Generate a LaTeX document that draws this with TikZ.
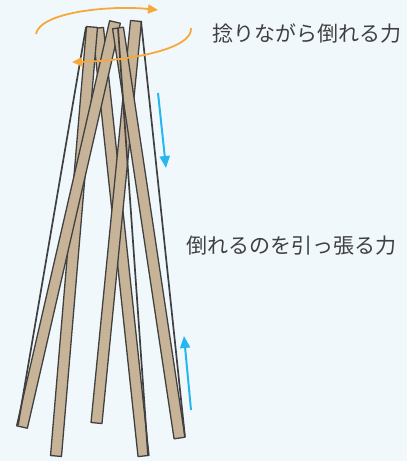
\documentclass[tikz,border=0pt]{standalone}
\usepackage{fontspec}
\newfontfamily\jpfont{Noto Sans CJK JP}
\usetikzlibrary{calc,arrows.meta}
\definecolor{bgblue}{RGB}{241,248,252}
\definecolor{wood}{RGB}{199,180,152}
\definecolor{woodedge}{RGB}{64,64,64}
\definecolor{twist}{RGB}{246,168,58}
\definecolor{pull}{RGB}{38,182,240}
\definecolor{labelgray}{RGB}{64,64,64}
% a plank drawn as a quadrilateral between two centre points
\newcommand\woodstick[3][5.5pt]{%
  \filldraw[stickbox] ($(#2)!#1!90:(#3)$) -- ($(#2)!#1!-90:(#3)$)
    -- ($(#3)!#1!90:(#2)$) -- ($(#3)!#1!-90:(#2)$) -- cycle;}
\begin{document}
\begin{tikzpicture}[x=1pt,y=-1pt,
  stickbox/.style={fill=wood,draw=woodedge,line width=1.3pt,line join=round},
  edgeline/.style={draw=woodedge,line width=1.7pt},
  twistarrow/.style={draw=twist,line width=1.8pt,-{Triangle[length=10pt,width=9pt]}},
  pullarrow/.style={draw=pull,line width=2pt,-{Triangle[length=12pt,width=10pt]}},
  caption/.style={text=labelgray,font=\jpfont\fontsize{21}{24}\selectfont,anchor=west,inner sep=0pt}]
\useasboundingbox (0,0) rectangle (407,461);
\fill[bgblue] (0,0) rectangle (407,461);

% plank end points (centres of the short edges)
\coordinate (aTop) at (115,22);   \coordinate (aBot) at (22,427);
\coordinate (bTop) at (92,27);    \coordinate (bBot) at (56,456);
\coordinate (cTop) at (136,21);   \coordinate (cBot) at (96.5,423);
\coordinate (dTop) at (98,28);    \coordinate (dBot) at (143.5,456);
\coordinate (eTop) at (118,28);   \coordinate (eBot) at (179.5,438);

% planks, back to front
\woodstick{dTop}{dBot}
\woodstick{bTop}{bBot}
\woodstick{aTop}{aBot}
\woodstick{cTop}{cBot}
\woodstick{eTop}{eBot}

% thin planks seen edge-on
\coordinate (l1Top) at (86,27);   \coordinate (l1Bot) at (18,425);
\coordinate (l2Top) at (118,28);  \coordinate (l2Bot) at (148,455);
\coordinate (l3Top) at (141,21);  \coordinate (l3Bot) at (185,437);
\draw[edgeline] (l1Top) -- (l1Bot);
\draw[edgeline] (l2Top) -- (l2Bot);
\draw[edgeline] (l3Top) -- (l3Bot);

% twisting motion round the top
\coordinate (tw1s) at (36,34);   \coordinate (tw1e) at (158,10);
\coordinate (tw2s) at (191,28);  \coordinate (tw2e) at (72,62);
\draw[twistarrow] (tw1s) .. controls (40,12) and (110,5) .. (tw1e);
\draw[twistarrow] (tw2s) .. controls (193,50) and (125,61) .. (tw2e);

% pulling forces
\coordinate (pl1s) at (158,93);   \coordinate (pl1e) at (166,168);
\coordinate (pl2s) at (191,410);  \coordinate (pl2e) at (184,336);
\draw[pullarrow] (pl1s) -- (pl1e);
\draw[pullarrow] (pl2s) -- (pl2e);

% captions
\node[caption] (twistlabel) at (212,33) {捻りながら倒れる力};
\node[caption] (pulllabel) at (186,246) {倒れるのを引っ張る力};
\end{tikzpicture}
\end{document}
